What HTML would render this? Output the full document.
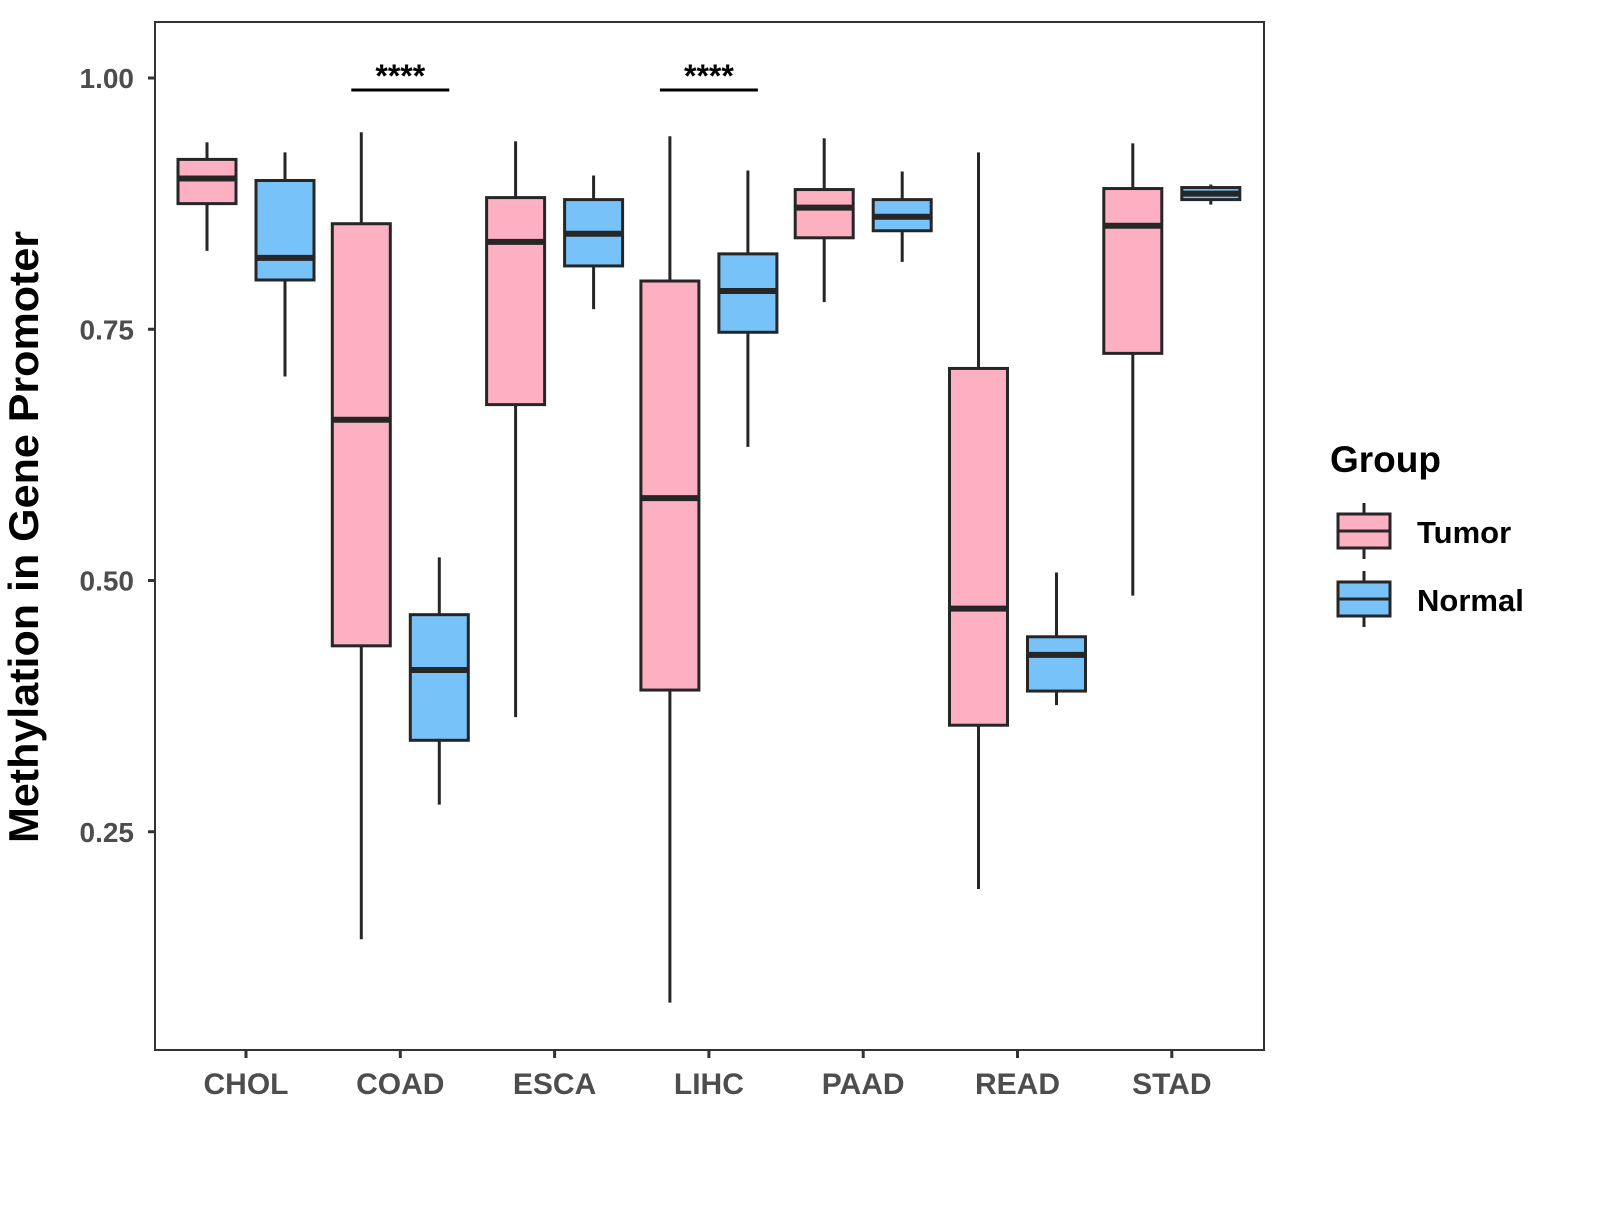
<!DOCTYPE html>
<html><head><meta charset="utf-8"><style>
body{margin:0;background:#fff;}
svg text{font-family:"Liberation Sans",Arial,sans-serif;font-weight:bold;}
</style></head><body>
<svg id="chart" width="1600" height="1200" viewBox="0 0 1600 1200" xmlns="http://www.w3.org/2000/svg">
<rect x="0" y="0" width="1600" height="1200" fill="#fff"/>
<g id="plot"></g>
<rect x="155" y="22" width="1109" height="1028" fill="none" stroke="#333" stroke-width="2"/>
<text x="38" y="537" font-size="42" text-anchor="middle" transform="rotate(-90 38 537)" fill="#000" textLength="612" lengthAdjust="spacingAndGlyphs">Methylation in Gene Promoter</text>
<g>
<text x="1330" y="472" font-size="37" fill="#000">Group</text>
<g>
<line x1="1364" y1="503" x2="1364" y2="559" stroke="#262626" stroke-width="3"/>
<rect x="1338" y="514" width="52" height="34" fill="#fdb0c2" stroke="#262626" stroke-width="3"/>
<line x1="1338" y1="531" x2="1390" y2="531" stroke="#262626" stroke-width="3"/>
<text x="1417" y="543" font-size="31" fill="#000">Tumor</text>
</g>
<g>
<line x1="1364" y1="571" x2="1364" y2="627" stroke="#262626" stroke-width="3"/>
<rect x="1338" y="582" width="52" height="34" fill="#77c2f8" stroke="#262626" stroke-width="3"/>
<line x1="1338" y1="599" x2="1390" y2="599" stroke="#262626" stroke-width="3"/>
<text x="1417" y="611" font-size="31" fill="#000">Normal</text>
</g>
</g>
</svg>
<script>
const categories=["CHOL","COAD","ESCA","LIHC","PAAD","READ","STAD"];
const groups=["Tumor","Normal"];
const tumorMin=[0.828,0.143,0.364,0.080,0.777,0.193,0.485];
const tumorQ1=[0.875,0.435,0.675,0.391,0.841,0.356,0.726];
const tumorMed=[0.900,0.660,0.837,0.582,0.871,0.472,0.853];
const tumorQ3=[0.919,0.855,0.881,0.798,0.889,0.711,0.890];
const tumorMax=[0.936,0.946,0.937,0.942,0.940,0.926,0.935];
const normalMin=[0.703,0.277,0.770,0.633,0.817,0.376,0.874];
const normalQ1=[0.799,0.341,0.813,0.747,0.848,0.390,0.879];
const normalMed=[0.821,0.411,0.845,0.788,0.862,0.426,0.885];
const normalQ3=[0.898,0.466,0.879,0.825,0.879,0.444,0.891];
const normalMax=[0.926,0.523,0.903,0.908,0.907,0.508,0.894];
const yTicks=[0.25,0.50,0.75,1.00];
const yTickLabels=["0.25","0.50","0.75","1.00"];
const sigCategories=["COAD","LIHC"];
const sigLabels=["****","****"];
const sigLevel=0.988;

const NS="http://www.w3.org/2000/svg";
const g=document.getElementById('plot');
function y(v){return 78+(1-v)*1005;}
function x(i){return 246+i*154.3;}
function mk(tag,attrs,parent){const e=document.createElementNS(NS,tag);for(const k in attrs)e.setAttribute(k,attrs[k]);(parent||g).appendChild(e);return e;}
yTicks.forEach((t,i)=>{
  const tk=mk('line',{x1:148,x2:155,y1:y(t),y2:y(t),stroke:'#333','stroke-width':3});
  
  
  const lb=mk('text',{x:134,y:y(t)+10,'font-size':28,'text-anchor':'end',fill:'#4d4d4d'});
  lb.textContent=yTickLabels[i];
  
  
});
categories.forEach((c,i)=>{
  const tk=mk('line',{x1:x(i),x2:x(i),y1:1050,y2:1058,stroke:'#333','stroke-width':3});
  
  
  const lb=mk('text',{x:x(i),y:1094,'font-size':30,'text-anchor':'middle',fill:'#4d4d4d'});
  lb.textContent=c;
  
  
});
const series=[
 {mn:tumorMin,q1:tumorQ1,md:tumorMed,q3:tumorQ3,mx:tumorMax,fill:'#fdb0c2',off:-39,name:'tumor'},
 {mn:normalMin,q1:normalQ1,md:normalMed,q3:normalQ3,mx:normalMax,fill:'#77c2f8',off:39,name:'normal'}
];
series.forEach(s=>{
  categories.forEach((c,i)=>{
    const cx=x(i)+s.off, w=58;
    const bg=mk('g',{});
    
    
    mk('line',{x1:cx,x2:cx,y1:y(s.mx[i]),y2:y(s.q3[i]),stroke:'#262626','stroke-width':3},bg);
    mk('line',{x1:cx,x2:cx,y1:y(s.q1[i]),y2:y(s.mn[i]),stroke:'#262626','stroke-width':3},bg);
    mk('rect',{x:cx-w/2,y:y(s.q3[i]),width:w,height:Math.max(0,y(s.q1[i])-y(s.q3[i])),fill:s.fill,stroke:'#262626','stroke-width':3},bg);
    mk('line',{x1:cx-w/2,x2:cx+w/2,y1:y(s.md[i]),y2:y(s.md[i]),stroke:'#262626','stroke-width':6},bg);
  });
});
sigCategories.forEach((c,k)=>{
  const i=categories.indexOf(c);
  const ln=mk('line',{x1:x(i)-49,x2:x(i)+49,y1:y(sigLevel),y2:y(sigLevel),stroke:'#000','stroke-width':3});
  
  
  const t=mk('text',{x:x(i),y:y(sigLevel)-3,'font-size':32,'text-anchor':'middle',fill:'#000'});
  t.textContent=sigLabels[k];
  
  
});
</script>
</body></html>
